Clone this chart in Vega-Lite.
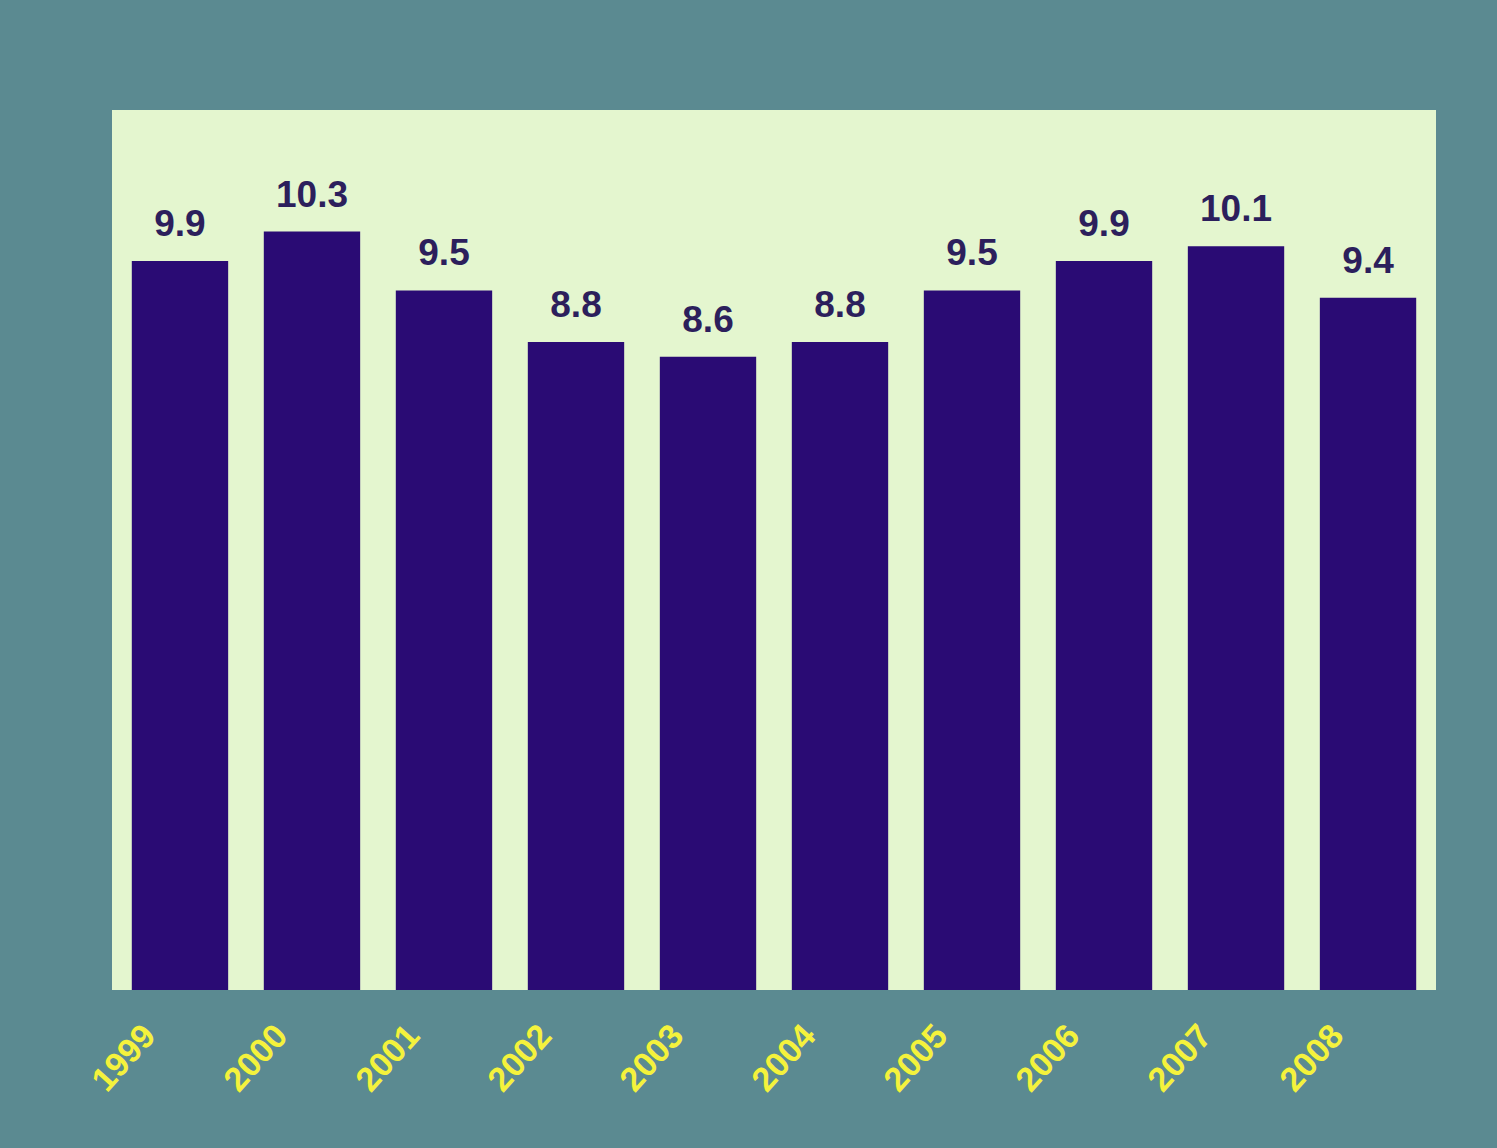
{
  "$schema": "https://vega.github.io/schema/vega-lite/v6.json",
  "width": 1324,
  "height": 880,
  "autosize": {"type": "none"},
  "padding": {"left": 112, "top": 110, "right": 61, "bottom": 158},
  "background": "#5b8a91",
  "data": {
    "values": [
      {"year": "1999", "value": 9.9},
      {"year": "2000", "value": 10.3},
      {"year": "2001", "value": 9.5},
      {"year": "2002", "value": 8.8},
      {"year": "2003", "value": 8.6},
      {"year": "2004", "value": 8.8},
      {"year": "2005", "value": 9.5},
      {"year": "2006", "value": 9.9},
      {"year": "2007", "value": 10.1},
      {"year": "2008", "value": 9.4}
    ]
  },
  "encoding": {
    "x": {
      "field": "year",
      "type": "nominal",
      "sort": null,
      "scale": {"paddingInner": 0.27, "paddingOuter": 0.15},
      "axis": {
        "title": null,
        "domain": false,
        "ticks": false,
        "tickSize": 0,
        "labelAngle": -48,
        "labelAlign": "right",
        "labelBaseline": "middle",
        "labelOffset": -30,
        "labelPadding": 40,
        "labelColor": "#f4f23c",
        "labelFont": "Liberation Sans",
        "labelFontWeight": "bold",
        "labelFontSize": 34,
        "labelOverlap": false
      }
    },
    "y": {
      "field": "value",
      "type": "quantitative",
      "scale": {"domain": [0, 11.95]},
      "axis": null
    }
  },
  "layer": [
    {
      "mark": {"type": "bar", "color": "#2a0b74"}
    },
    {
      "mark": {
        "type": "text",
        "baseline": "bottom",
        "dy": -17,
        "font": "Liberation Sans",
        "fontWeight": "bold",
        "fontSize": 37,
        "color": "#2c1f5c"
      },
      "encoding": {
        "text": {"field": "value", "type": "quantitative", "format": ".1f"}
      }
    }
  ],
  "config": {
    "view": {"stroke": null, "fill": "#e4f6cf"}
  }
}
